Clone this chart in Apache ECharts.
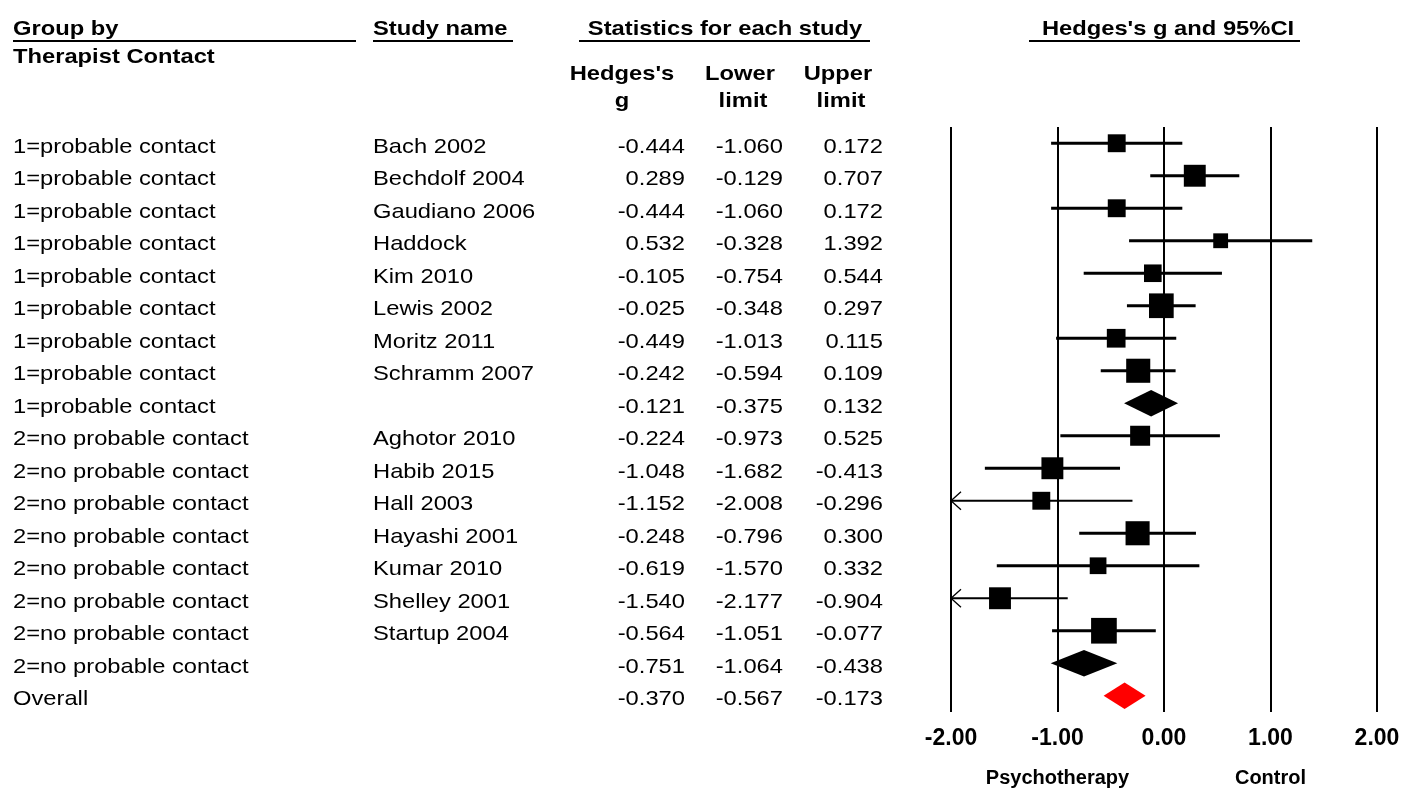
<!DOCTYPE html>
<html>
<head>
<meta charset="utf-8">
<script src="https://cdn.jsdelivr.net/npm/echarts@6/dist/echarts.min.js"></script>
<style>html,body{margin:0;padding:0;background:#fff}#main{width:1405px;height:789px}</style>
</head>
<body>
<div id="main"></div>
<script>
// ---------- DATA ----------
const groupLabels = ['1=probable contact','1=probable contact','1=probable contact','1=probable contact','1=probable contact','1=probable contact','1=probable contact','1=probable contact','1=probable contact','2=no probable contact','2=no probable contact','2=no probable contact','2=no probable contact','2=no probable contact','2=no probable contact','2=no probable contact','2=no probable contact','Overall'];
const studyNames = ['Bach 2002','Bechdolf 2004','Gaudiano 2006','Haddock','Kim 2010','Lewis 2002','Moritz 2011','Schramm 2007','','Aghotor 2010','Habib 2015','Hall 2003','Hayashi 2001','Kumar 2010','Shelley 2001','Startup 2004','',''];
const hedgesG = [-0.444,0.289,-0.444,0.532,-0.105,-0.025,-0.449,-0.242,-0.121,-0.224,-1.048,-1.152,-0.248,-0.619,-1.540,-0.564,-0.751,-0.370];
const lowerLimit = [-1.060,-0.129,-1.060,-0.328,-0.754,-0.348,-1.013,-0.594,-0.375,-0.973,-1.682,-2.008,-0.796,-1.570,-2.177,-1.051,-1.064,-0.567];
const upperLimit = [0.172,0.707,0.172,1.392,0.544,0.297,0.115,0.109,0.132,0.525,-0.413,-0.296,0.300,0.332,-0.904,-0.077,-0.438,-0.173];
const rowKind = ['study','study','study','study','study','study','study','study','subgroup','study','study','study','study','study','study','study','subgroup','overall'];
// relative study weights (read from square areas)
const relWeight = [3.2,4.8,3.2,2.2,3.1,6.1,3.5,5.8,null,4.0,4.8,3.2,5.8,2.8,4.8,6.6,null,null];
const axisTicks = [-2,-1,0,1,2];
const sideLabels = {'-1':'Psychotherapy','1':'Control'};

// ---------- LAYOUT ----------
const W = 1405;
const gridTop = 127, gridBottom = 77;
const rowIdx = groupLabels.map((_, i) => i);
const FONT = '"Liberation Sans", Arial, Helvetica, sans-serif';
const SX = 1.13;
const cols = {group: 13, study: 373, g: 685, lower: 783, upper: 883};
const fmt = v => v.toFixed(3);

const chart = echarts.init(document.getElementById('main'), null, {renderer: 'canvas'});

function txt(x, y, s, align, bold, size) {
  return {
    type: 'text', x: x, y: y + 2, scaleX: SX,
    style: {text: s, x: 0, y: 0, align: align, verticalAlign: 'middle',
      font: (bold ? 'bold ' : '') + size + 'px ' + FONT, fill: '#000'}
  };
}

const tableData = rowIdx.map(i => [0, i]);
const forestData = rowIdx.map(i => [hedgesG[i], i, lowerLimit[i], upperLimit[i]]);

function renderTable(params, api) {
  const i = api.value(1);
  const y = api.coord([0, i])[1] + 1.5;
  const children = [
    txt(cols.group, y, groupLabels[i], 'left', false, 21),
    txt(cols.study, y, studyNames[i], 'left', false, 21),
    txt(cols.g, y, fmt(hedgesG[i]), 'right', false, 21),
    txt(cols.lower, y, fmt(lowerLimit[i]), 'right', false, 21),
    txt(cols.upper, y, fmt(upperLimit[i]), 'right', false, 21)
  ];
  return {type: 'group', children: children};
}

function renderForest(params, api) {
  const i = api.value(1);
  const g = api.value(0), lo = api.value(2), hi = api.value(3);
  const kind = rowKind[i];
  const c = api.coord([g, i]);
  const y = c[1];
  const children = [];
  if (kind === 'study') {
    const loC = Math.max(lo, -2), hiC = Math.min(hi, 2);
    const x1 = api.coord([loC, i])[0], x2 = api.coord([hiC, i])[0];
    const clipped = lo < -2 || hi > 2;
    children.push({type: 'line', shape: {x1: x1, y1: y, x2: x2, y2: y},
      style: {stroke: '#000', lineWidth: clipped ? 2.2 : 3}});
    if (lo < -2) {
      children.push({type: 'polyline', shape: {points: [[x1 + 10, y - 9], [x1, y], [x1 + 10, y + 9]]},
        style: {stroke: '#000', lineWidth: 1.3, fill: null}});
    }
    if (hi > 2) {
      children.push({type: 'polyline', shape: {points: [[x2 - 10, y - 9], [x2, y], [x2 - 10, y + 9]]},
        style: {stroke: '#000', lineWidth: 1.3, fill: null}});
    }
    const s = 10 * Math.sqrt(relWeight[i]);
    children.push({type: 'rect', shape: {x: c[0] - s / 2, y: y - s / 2, width: s, height: s},
      style: {fill: '#000'}});
  } else {
    const x1 = api.coord([lo, i])[0], x2 = api.coord([hi, i])[0];
    const h = 13.3;
    children.push({type: 'polygon', shape: {points: [[x1, y], [c[0], y - h], [x2, y], [c[0], y + h]]},
      style: {fill: kind === 'overall' ? '#ff0000' : '#000'}});
  }
  return {type: 'group', children: children};
}

const headerGraphics = [
  txt(13, 27, 'Group by', 'left', true, 21),
  txt(13, 55, 'Therapist Contact', 'left', true, 21),
  txt(373, 27, 'Study name', 'left', true, 21),
  txt(725, 27, 'Statistics for each study', 'center', true, 21),
  txt(1168, 27, "Hedges's g and 95%CI", 'center', true, 21),
  txt(622, 72, "Hedges's", 'center', true, 21),
  txt(622, 99, 'g', 'center', true, 21),
  txt(740, 72, 'Lower', 'center', true, 21),
  txt(743, 99, 'limit', 'center', true, 21),
  txt(838, 72, 'Upper', 'center', true, 21),
  txt(841, 99, 'limit', 'center', true, 21),
  {type: 'line', shape: {x1: 13, y1: 41, x2: 356, y2: 41}, style: {stroke: '#000', lineWidth: 2}},
  {type: 'line', shape: {x1: 373, y1: 41, x2: 513, y2: 41}, style: {stroke: '#000', lineWidth: 2}},
  {type: 'line', shape: {x1: 579, y1: 41, x2: 870, y2: 41}, style: {stroke: '#000', lineWidth: 2}},
  {type: 'line', shape: {x1: 1029, y1: 41, x2: 1300, y2: 41}, style: {stroke: '#000', lineWidth: 2}}
];

const option = {
  animation: false,
  backgroundColor: '#fff',
  grid: [
    {left: 951, right: 28, top: gridTop, bottom: gridBottom},
    {left: 0, right: 0, top: gridTop, bottom: gridBottom}
  ],
  xAxis: [
    {
      gridIndex: 0, type: 'value', min: -2, max: 2, interval: 1,
      axisLine: {show: false}, axisTick: {show: false},
      splitLine: {show: true, lineStyle: {color: '#000', width: 2}},
      axisLabel: {margin: 15, fontFamily: FONT, fontWeight: 'bold', fontSize: 23, color: '#000',
        formatter: v => v.toFixed(2)}
    },
    {
      gridIndex: 0, type: 'value', min: -2, max: 2, interval: 1, position: 'bottom', offset: 40,
      axisLine: {show: false}, axisTick: {show: false}, splitLine: {show: false},
      axisLabel: {margin: 16, fontFamily: FONT, fontWeight: 'bold', fontSize: 20, color: '#000',
        formatter: v => sideLabels[String(Math.round(v))] || ''}
    },
    {gridIndex: 1, type: 'value', min: 0, max: W, show: false}
  ],
  yAxis: [
    {gridIndex: 0, type: 'category', data: rowIdx, inverse: true, show: false},
    {gridIndex: 1, type: 'category', data: rowIdx, inverse: true, show: false}
  ],
  graphic: headerGraphics,
  series: [
    {type: 'custom', xAxisIndex: 2, yAxisIndex: 1, data: tableData, renderItem: renderTable, clip: false, silent: true},
    {type: 'custom', xAxisIndex: 0, yAxisIndex: 0, data: forestData, renderItem: renderForest, clip: false, silent: true,
      encode: {x: 0, y: 1}}
  ]
};
chart.setOption(option);
</script>
</body>
</html>
